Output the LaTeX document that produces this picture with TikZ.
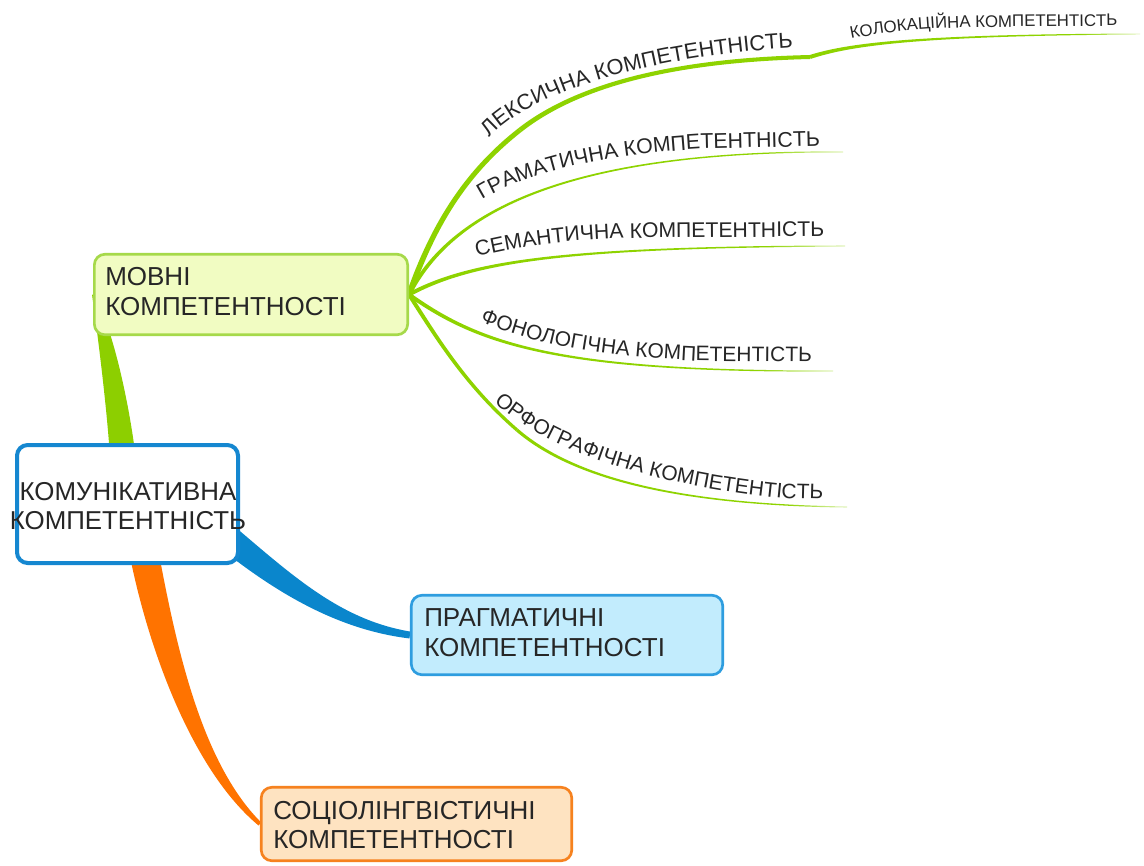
\documentclass[tikz,border=0pt]{standalone}
\usepackage{fontspec}
\setmainfont{Liberation Sans}
\usetikzlibrary{calc,decorations.text}
\pgfdeclarelayer{bg}
\pgfdeclarelayer{conn}
\pgfsetlayers{bg,conn,main}
\definecolor{txt}{HTML}{262626}
\definecolor{gmain}{HTML}{8DCF00}
\definecolor{gbr}{HTML}{8ED300}
\definecolor{bmain}{HTML}{0A86CC}
\definecolor{omain}{HTML}{FF7300}
\definecolor{movfill}{HTML}{F1FCC2}
\definecolor{movdraw}{HTML}{A6D94A}
\definecolor{pragfill}{HTML}{C2ECFD}
\definecolor{pragdraw}{HTML}{2E9DDF}
\definecolor{socfill}{HTML}{FEE3C1}
\definecolor{socdraw}{HTML}{F6821F}
\definecolor{komdraw}{HTML}{1587D0}
\pgfdeclarehorizontalshading{brfade}{100bp}{color(0bp)=(gbr); color(66bp)=(gbr); color(75bp)=(gbr!25); color(100bp)=(gbr!25)}
% tapered connector: 4 bezier points, 4 half widths, paint options
\newcommand\taper[9]{%
  \path[#9] ($#1!#5!90:#2$) .. controls ($#2!#6!-90:#1$) and ($#3!#7!90:#4$) .. ($#4!#8!-90:#3$)
    -- ($#4!#8!90:#3$) .. controls ($#3!#7!-90:#4$) and ($#2!#6!90:#1$) .. ($#1!#5!-90:#2$) -- cycle;}
\newcommand\blabel[1]{\fontsize{#1}{18pt}\selectfont\color{txt}}
\begin{document}
\begin{tikzpicture}[x=0.75pt,y=-0.75pt,
  box/.style={rectangle, rounded corners=8pt, line width=2pt, inner sep=0pt},
  boxtext/.style={font=\fontsize{19.5pt}{22.5pt}\selectfont, text=txt, align=left, inner sep=0pt, anchor=west},
  lbl/.style={decorate, decoration={text along path, text={#1}}},
  fadeend/.style={shade, shading=brfade},
  solid/.style={fill=#1}
  ]
\begin{pgfonlayer}{bg}
  \fill[white] (0,0) rectangle (1144,865);
\end{pgfonlayer}

% boxes
\node[box, draw=movdraw, fill=movfill, minimum width=235pt, minimum height=60.4pt] (mov) at (251,294.5) {};
\node[box, draw=pragdraw, fill=pragfill, minimum width=233.6pt, minimum height=59.6pt] (prag) at (567,635) {};
\node[box, draw=socdraw, fill=socfill, minimum width=232.9pt, minimum height=55.1pt] (soc) at (416.5,824) {};
\node[box, draw=komdraw, fill=white, line width=3pt, minimum width=165.75pt, minimum height=88.5pt] (kom) at (127.5,504) {};

% box texts
\node[boxtext] (movt) at (105,292) {МОВНІ\\КОМПЕТЕНТНОСТІ};
\node[boxtext] (pragt) at (424,633) {ПРАГМАТИЧНІ\\КОМПЕТЕНТНОСТІ};
\node[boxtext, font=\fontsize{19.5pt}{21.75pt}\selectfont] (soct) at (273,825.5) {СОЦІОЛІНГВІСТИЧНІ\\КОМПЕТЕНТНОСТІ};
\node[font=\fontsize{19.4pt}{21.75pt}\selectfont, text=txt, align=center, inner sep=0pt] (komt) at (128,506.5) {КОМУНІКАТИВНА\\КОМПЕТЕНТНІСТЬ};

% connectors
\begin{pgfonlayer}{conn}
  \coordinate (g0) at ($(kom.north)+(-5.5,6)$);
  \coordinate (g1) at (117,400);
  \coordinate (g2) at (105,330);
  \taper{(g0)}{(g1)}{(g2)}{(mov.west)}{9.4pt}{8.25pt}{6pt}{0.75pt}{solid=gmain}
  \coordinate (b0) at ($(kom.center)+(97,31)$);
  \coordinate (b1) at (285,585);
  \coordinate (b2) at (340,625);
  \taper{(b0)}{(b1)}{(b2)}{(prag.west)}{9.75pt}{9pt}{3.75pt}{2.6pt}{solid=bmain}
  \coordinate (o0) at ($(kom.south)+(14.5,-23)$);
  \coordinate (o1) at (160,640);
  \coordinate (o2) at (195,765);
  \taper{(o0)}{(o1)}{(o2)}{(soc.west)}{10.9pt}{10.9pt}{4.5pt}{1.5pt}{solid=omain}
  % branches of МОВНІ
  \coordinate (lexmid) at (520,130);
  \coordinate (lexend) at (810,57);
  \coordinate (colend) at (1140,34);
  \coordinate (graend) at (843,152);
  \coordinate (semend) at (845,246);
  \coordinate (fonend) at (833,371);
  \coordinate (orfmid) at (517,430);
  \coordinate (orfend) at (847,507);
  \taper{(mov.east)}{(435,220)}{(469,170)}{(lexmid)}{2.1pt}{2.05pt}{1.9pt}{1.8pt}{solid=gbr}
  \taper{(lexmid)}{(580,83)}{(680,60)}{(lexend)}{1.8pt}{1.7pt}{1.6pt}{1.5pt}{solid=gbr}
  \taper{(lexend)}{(850,44)}{(920,35)}{(colend)}{1.5pt}{1.2pt}{0.6pt}{0.35pt}{fadeend}
  \taper{(mov.east)}{(450,215)}{(560,150)}{(graend)}{1.5pt}{1.3pt}{0.7pt}{0.4pt}{fadeend}
  \taper{(mov.east)}{(470,262)}{(560,247)}{(semend)}{1.5pt}{1.3pt}{0.7pt}{0.4pt}{fadeend}
  \taper{(mov.east)}{(480,345)}{(560,372)}{(fonend)}{1.5pt}{1.3pt}{0.7pt}{0.4pt}{fadeend}
  \taper{(mov.east)}{(435,335)}{(465,385)}{(orfmid)}{1.5pt}{1.45pt}{1.3pt}{1.2pt}{solid=gbr}
  \taper{(orfmid)}{(580,484.5)}{(700,505)}{(orfend)}{1.2pt}{0.95pt}{0.6pt}{0.4pt}{fadeend}
\end{pgfonlayer}

% branch labels
\path[lbl={|\blabel{16.3pt}|ЛЕКСИЧНА КОМПЕТЕНТНІСТЬ}] (489,138) .. controls (525,96) and (640,57) .. (790,48) -- (880,46);
\path[lbl={|\blabel{12.6pt}|КОЛОКАЦІЙНА КОМПЕТЕНТІСТЬ}] (851,39) .. controls (890,31) and (935,27) .. (1000,27) -- (1200,25);
\path[lbl={|\blabel{16pt}|ГРАМАТИЧНА КОМПЕТЕНТНІСТЬ}] (482,200) .. controls (528,172) and (600,155) .. (700,149) -- (900,144);
\path[lbl={|\blabel{15.9pt}|СЕМАНТИЧНА КОМПЕТЕНТНІСТЬ}] (477,257) .. controls (520,246) and (570,239) .. (640,238) -- (900,236);
\path[lbl={|\blabel{15.7pt}|ФОНОЛОГІЧНА КОМПЕТЕНТІСТЬ}] (480,321) .. controls (540,347) and (610,357) .. (700,361) -- (900,363);
\path[lbl={|\blabel{15.7pt}|ОРФОГРАФІЧНА КОМПЕТЕНТІСТЬ}] (494,402) .. controls (545,450) and (650,485) .. (780,498) -- (900,501);

\pgfresetboundingbox
\useasboundingbox (0,0) rectangle (1144,865);
\end{tikzpicture}
\end{document}
